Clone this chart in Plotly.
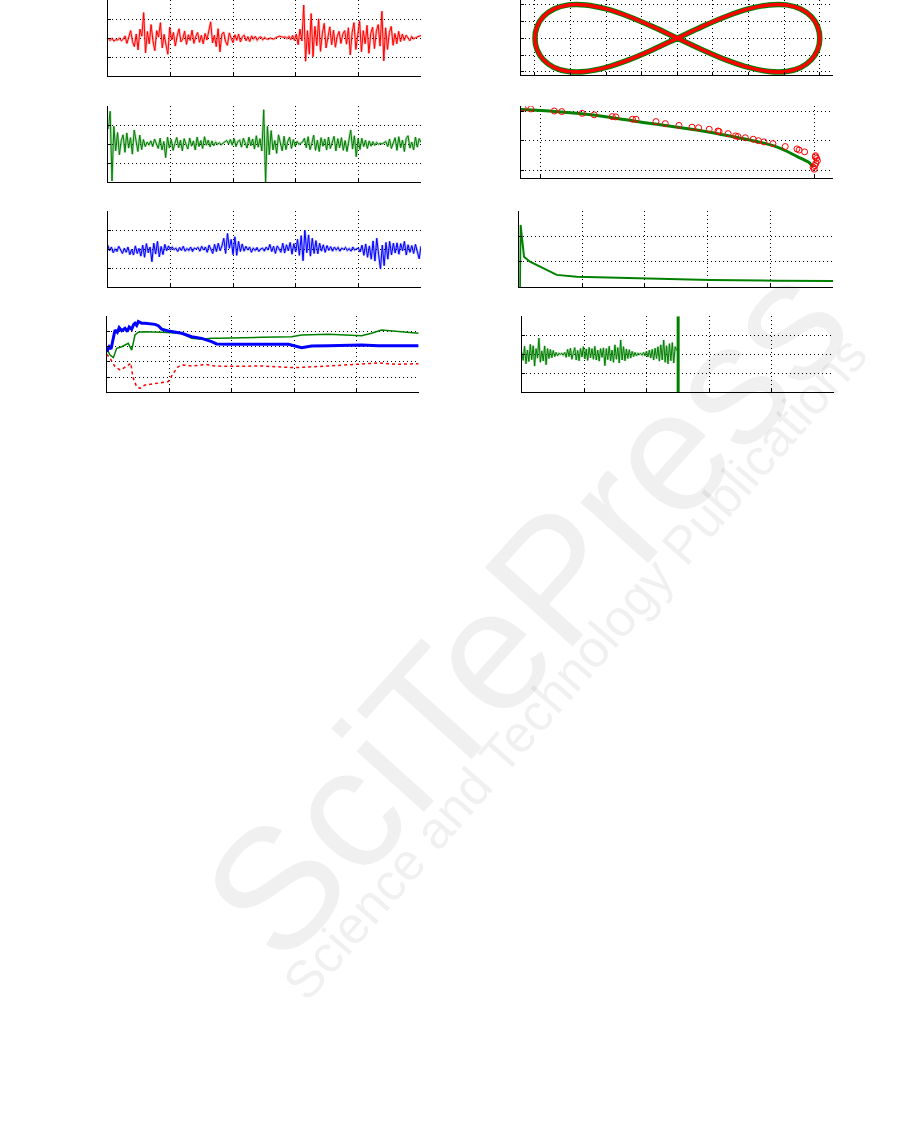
import numpy as np
import plotly.graph_objects as go

W, H = 901, 1134

# ---------------- data ----------------
# Panel 1 (red signal)
sig_red = [-0.05, -0.12, -0.02, -0.15, -0.08, -0.1, 0.0, -0.14, -0.06,
           0.12, -0.28, 0.05, 0.4, -0.18, -0.45, 0.22, -0.62,
           0.48, 0.1, 1.35, -0.78, 0.35, -0.3,
           0.72, -0.15, -0.66, 0.4, 0.05, 0.82, -0.52, 0.2, -0.35, -0.85, 0.58, -0.1,
           0.3, -0.42, 0.12, 0.5, -0.2, -0.05, 0.38, -0.33, 0.18, -0.12, 0.42, -0.28, 0.08, 0.3, -0.22, 0.15, -0.3,
           0.25, -0.1, 0.4, 0.86, -0.25, 0.15, -0.45, 0.5, -0.72, 0.2, 0.32, -0.18, -0.38, 0.28, 0.0, -0.24, 0.18,
           -0.12, 0.22, -0.2, 0.05, 0.16, -0.14, 0.08, -0.18, 0.12, -0.05, 0.1, -0.11, 0.03, 0.07, -0.09, 0.04, -0.04,
           -0.06, 0.01, -0.03, -0.05, 0.03, 0.06, 0.1, 0.08, 0.04, 0.07, -0.02, 0.09, -0.08, 0.14, -0.12, 0.22,
           -0.35, 0.48, -0.15, 1.75, -1.22, 0.4, -0.85, 1.3, -0.98,
           0.62, -0.4, 1.02, -0.7, 0.25, 0.78, -0.52, 0.18, 0.6, -0.35, 0.42, -0.48, 0.1, 0.36, -0.28, 0.22, 0.4,
           -0.32, 0.55, -0.88, 0.3, 0.82, -0.6, 0.15, 0.92, -0.72, 0.4, -0.3, 0.68, -0.8, 0.25, 0.58, -0.55, 0.35,
           0.72, -0.42, 1.42, -1.2, 0.55, -0.6, 0.3, 0.62,
           -0.38, 0.25, -0.3, 0.36, -0.18, 0.22, -0.12, 0.16, 0.0, -0.14, 0.09, -0.04, 0.02, 0.06, 0.1, 0.14]

# Panel 2 (green signal)
sig_green = [0.8, 1.74, -1.93,
             0.95, -0.35, 0.62, -0.55, 0.2, 0.5, -0.42,
             0.6, -0.2, 0.35, -0.52, 0.75, 0.1, -0.38, 0.48, -0.28, 0.25, -0.12,
             0.12, -0.02, 0.18, -0.12, 0.28, 0.0, -0.22, 0.32, -0.3, 0.15, -0.7, 0.38, -0.2,
             0.26, -0.32, 0.05, 0.36, -0.18, 0.22, -0.34, 0.3, 0.0, -0.25, 0.33, -0.1, 0.18, -0.3, 0.38, -0.12, 0.2,
             -0.22, 0.4, -0.05, 0.22, -0.14, 0.18, -0.08, 0.12, 0.0, 0.08, -0.02, 0.06, 0.12,
             0.2, 0.02, 0.25, -0.05, 0.3, -0.12, 0.15, 0.22, -0.15, 0.32, 0.0, -0.2, 0.38, -0.08, 0.28, -0.25,
             0.45, -0.15, 0.3, -0.35,
             1.82, -2.0, 0.95, -0.55,
             0.72, -0.3, 0.2, -0.48, 0.5, 0.05, -0.35, 0.42, -0.28, 0.15, 0.38, -0.22, 0.25, -0.1, 0.16, 0.0, 0.08,
             0.12, 0.32, -0.18, 0.4, -0.28, 0.05, 0.48, -0.32, 0.22, -0.38, 0.35, -0.1, 0.28, -0.3,
             0.38, -0.22, 0.1, 0.42, -0.35, 0.3, -0.18, 0.35, -0.32, 0.2, -0.38, 0.28, 0.75, -0.25, 0.45, -0.65, 0.3,
             -0.28, 0.32, -0.12, 0.22, -0.22, 0.18, -0.1, 0.14, -0.06, 0.1, 0.0, 0.05, 0.02, 0.06,
             0.14, -0.12, 0.28, -0.22, 0.05, 0.35, -0.32, 0.4, -0.18, 0.22, -0.38, 0.3, 0.45, -0.2, 0.12, -0.3,
             0.38, -0.15, 0.3, 0.1]

# Panel 3 (blue signal)
sig_blue = [0.22, -0.08, 0.12, -0.18, 0.02, -0.12, 0.16, -0.02, -0.22, 0.06, -0.16, 0.12, -0.28, 0.0, -0.3, 0.18, -0.22,
            0.05, -0.36, 0.22, -0.42, 0.3, -0.18, 0.12, -0.65, 0.32, -0.25, 0.42, -0.4, 0.15, -0.28, 0.26, -0.08, 0.18,
            -0.04, 0.12, -0.02, 0.06, -0.12, 0.1, -0.06, 0.16, -0.1, 0.04, -0.06, 0.12, -0.12, 0.06, 0.02, 0.1,
            -0.1, 0.16, -0.04, 0.12, -0.16, 0.22, -0.02, -0.22, 0.26, -0.12, 0.32, -0.08, 0.18,
            0.58, -0.22, 0.84, 0.05, 0.52, -0.28, 0.66, -0.32, 0.42, -0.12, 0.28,
            -0.1, 0.16, -0.04, 0.12, -0.16, 0.06, -0.06, 0.1, -0.12, 0.02, 0.06, -0.1, 0.12, -0.04, 0.26, -0.12,
            0.16, -0.22, 0.18, 0.02, -0.16, 0.32, -0.2, 0.24, -0.08, 0.36, -0.26, 0.3, -0.14,
            0.52, -0.32, 0.72, -0.6, 1.0, -0.18, 0.76, -0.36, 0.58, -0.22,
            0.46, -0.24, 0.32, -0.1, 0.24, -0.16, 0.2, -0.06, 0.14, -0.1, 0.12, -0.04, 0.1, -0.1, 0.06, 0.0,
            0.1, -0.06, 0.04, -0.1, 0.12, -0.04, 0.02, 0.06,
            -0.14, 0.22, -0.32, 0.28, -0.42, 0.18, -0.52, 0.44, -0.62, 0.58, -0.28, -1.04, 0.22, -0.86, 0.36,
            -0.52, 0.42, -0.3, 0.32, -0.2,
            0.34, -0.26, 0.3, -0.08, 0.42, -0.3, 0.24, -0.16, 0.2, -0.22, 0.26, -0.1, -0.5, 0.16]

# Panel 4 (three estimates)
est_blue_x = [0, 0.04, 0.07, 0.1, 0.133, 0.17, 0.2, 0.24, 0.293, 0.33, 0.36, 0.4, 0.43, 0.453, 0.48, 0.506,
              0.56, 0.613, 0.7, 0.773, 0.826, 0.88, 0.986, 1.2, 1.36, 1.52, 1.68, 1.76, 1.95, 2.48, 2.56,
              2.91, 3.12, 3.28, 3.55, 4.08, 4.35, 4.99]
est_blue_y = [2.67, 3.0, 2.85, 3.5, 4.1, 3.95, 4.25, 4.05, 4.21, 4.0, 4.3, 4.15, 4.45, 4.54, 4.4, 4.65,
              4.55, 4.55, 4.5, 4.47, 4.38, 4.16, 4.03, 3.88, 3.66, 3.55, 3.33, 3.18, 3.16, 3.16, 3.2,
              3.16, 2.93, 3.05, 3.07, 3.11, 3.07, 3.07]
est_green_x = [0, 0.053, 0.107, 0.16, 0.24, 0.346, 0.4, 0.426, 0.453, 0.506, 0.586, 0.88, 1.2, 1.36, 1.52,
               1.68, 1.81, 2.48, 2.96, 3.12, 3.55, 4.08, 4.24, 4.4, 4.62, 4.99]
est_green_y = [2.89, 2.45, 2.28, 2.89, 3.0, 3.22, 2.78, 3.33, 3.77, 3.95, 3.99, 3.95, 3.88, 3.55, 3.49,
               3.55, 3.55, 3.62, 3.66, 3.77, 3.82, 3.72, 3.88, 4.1, 4.0, 3.88]
est_red_x = [0, 0.053, 0.133, 0.213, 0.266, 0.346, 0.39, 0.40, 0.426, 0.48, 0.533, 0.613, 0.773, 0.933,
             0.986, 1.066, 1.146, 1.226, 1.36, 1.52, 1.57, 1.73, 1.95, 2.48, 3.01, 3.55, 4.08, 4.35, 4.62, 4.99]
est_red_y = [2.5, 2.24, 1.69, 1.47, 1.58, 1.8, 1.91, 1.47, 0.92, 0.37, 0.26, 0.48, 0.59, 0.66,
             0.7, 1.25, 1.69, 1.8, 1.73, 1.8, 1.84, 1.73, 1.71, 1.73, 1.62, 1.73, 1.84, 1.93, 1.84, 1.88]

# Panel 5 (figure-eight path: reference and estimate)
path_x = [2.0, 1.970, 1.879, 1.732, 1.532, 1.286, 1.0, 0.684, 0.347, 0.0, -0.347, -0.684, -1.0, -1.286,
          -1.532, -1.732, -1.879, -1.970, -2.0, -1.970, -1.879, -1.732, -1.532, -1.286, -1.0, -0.684,
          -0.347, 0.0, 0.347, 0.684, 1.0, 1.286, 1.532, 1.732, 1.879, 1.970, 2.0]
path_y = [0.0, 0.342, 0.643, 0.866, 0.985, 0.985, 0.866, 0.643, 0.342, 0.0, -0.342, -0.643, -0.866, -0.985,
          -0.985, -0.866, -0.643, -0.342, 0.0, 0.342, 0.643, 0.866, 0.985, 0.985, 0.866, 0.643,
          0.342, 0.0, -0.342, -0.643, -0.866, -0.985, -0.985, -0.866, -0.643, -0.342, 0.0]

# Panel 6 (curve and measured points)
curve_x = [-0.074, 0.0, 0.13, 0.25, 0.374, 0.5, 0.618, 0.7, 0.8, 0.85, 0.9, 0.94, 0.965, 0.984, 0.994]
curve_y = [2.06, 2.03, 1.93, 1.80, 1.62, 1.46, 1.29, 1.14, 0.95, 0.83, 0.64, 0.45, 0.34, 0.24, 0.11]
pts_x = [-0.065, -0.037, 0.049, 0.076, 0.151, 0.195, 0.261, 0.274, 0.335, 0.348, 0.421, 0.455, 0.505,
         0.553, 0.577, 0.616, 0.648, 0.652, 0.685, 0.712, 0.721, 0.748, 0.777, 0.796, 0.816, 0.849,
         0.894, 0.937, 0.945, 0.965, 1.005, 1.009, 1.012, 1.006, 1.003, 1.0, 0.996, 1.004]
pts_y = [2.11, 2.08, 2.01, 1.99, 1.93, 1.88, 1.82, 1.81, 1.73, 1.73, 1.65, 1.58, 1.52,
         1.46, 1.44, 1.39, 1.33, 1.31, 1.24, 1.16, 1.14, 1.10, 1.05, 1.00, 0.96, 0.90,
         0.80, 0.72, 0.68, 0.62, 0.49, 0.40, 0.32, 0.23, 0.15, 0.03, 0.10, 0.45]

# Panel 7 (error decay)
err_x = [0.01, 0.02, 0.064, 0.075, 0.17, 0.33, 0.436, 0.596, 0.914, 1.97, 3.04, 4.10, 5.0]
err_y = [0.0, 2.46, 1.47, 1.21, 1.01, 0.81, 0.68, 0.49, 0.42, 0.35, 0.29, 0.26, 0.25]

# Panel 8 (green signal until the switch)
sig_switch = [0.1, -0.32, 0.42, -0.5, 0.22, -0.38, 0.52, -0.28, 0.45, -0.62, 0.3, -0.2, 0.85, -0.42, 0.18, -0.35,
              0.44, -0.55, 0.3, -0.22, 0.26, -0.18, 0.2, -0.12, 0.1, -0.08, 0.05,
              0.0, 0.05, -0.04, 0.1,
              -0.16, 0.26, -0.12, 0.32, -0.26, 0.08, 0.35, -0.3, 0.2, -0.34, 0.3, -0.14, 0.4, -0.24, 0.28, -0.32,
              0.36, -0.18, 0.3, -0.26, 0.42, -0.3, 0.22, -0.36, 0.3, -0.16, 0.34, -0.6, 0.3,
              -0.28, 0.42, -0.35, 0.22, -0.42, 0.5, -0.26, 0.35, -0.46, 0.75, -0.3, 0.4, -0.34, 0.28, -0.22, 0.24,
              -0.2, 0.15, -0.12, 0.1, -0.08, 0.05, 0.0, 0.04, -0.04,
              0.1, -0.08, 0.16, -0.14, 0.22, -0.2, 0.26, -0.3, 0.32, -0.22, 0.4, -0.36, 0.5, -0.3, 0.75, -0.42,
              0.45, -0.5, 0.56, -0.34, 0.62, -0.46, 0.4, 0.2]
switch_end = 2.48
switch_at = 2.505

# ---------------- figure ----------------
RED, GREEN, BLUE = "#ff0000", "#008000", "#0000ff"
fig = go.Figure()


def add(trace, k):
    trace.update(xaxis="x" if k == 1 else f"x{k}", yaxis="y" if k == 1 else f"y{k}",
                 showlegend=False, hoverinfo="skip")
    fig.add_trace(trace)


def noise(vals, k, color, halo, x_end):
    xs = np.linspace(0, x_end, len(vals))
    add(go.Scatter(x=xs, y=vals, mode="lines", line=dict(color=halo, width=2.5)), k)
    add(go.Scatter(x=xs, y=vals, mode="lines", line=dict(color=color, width=1)), k)


noise(sig_red, 1, RED, "rgba(255,0,0,0.3)", 5)
noise(sig_green, 2, GREEN, "rgba(0,128,0,0.3)", 5)
noise(sig_blue, 3, BLUE, "rgba(0,0,255,0.3)", 5)

add(go.Scatter(x=est_red_x, y=est_red_y, mode="lines", line=dict(color=RED, width=1.5, dash="dot")), 4)
add(go.Scatter(x=est_green_x, y=est_green_y, mode="lines", line=dict(color=GREEN, width=1.5)), 4)
add(go.Scatter(x=est_blue_x, y=est_blue_y, mode="lines", line=dict(color=BLUE, width=3)), 4)

add(go.Scatter(x=path_x, y=path_y, mode="lines", line=dict(color=GREEN, width=5.5, shape="spline")), 5)
add(go.Scatter(x=path_x, y=path_y, mode="lines", line=dict(color=RED, width=3.5, shape="spline")), 5)

add(go.Scatter(x=curve_x, y=curve_y, mode="lines", line=dict(color=GREEN, width=3, shape="spline")), 6)
add(go.Scatter(x=pts_x, y=pts_y, mode="markers",
               marker=dict(symbol="circle-open", size=6, color=RED, line=dict(width=1, color=RED))), 6)

add(go.Scatter(x=err_x, y=err_y, mode="lines", line=dict(color=GREEN, width=2)), 7)

noise(sig_switch, 8, GREEN, "rgba(0,128,0,0.3)", switch_end)
add(go.Scatter(x=[switch_at, switch_at], y=[-2, 2], mode="lines", line=dict(color=GREEN, width=3)), 8)

# panel geometry in pixels: left, right, top, bottom
geom = {
    1: (108.3, 421.0, 0.3, 76.0),
    2: (108.3, 421.0, 106.3, 182.3),
    3: (107.7, 421.0, 211.3, 287.3),
    4: (106.7, 419.0, 316.3, 392.3),
    5: (520.7, 833.3, 0.0, 75.0),
    6: (520.7, 833.3, 106.3, 178.3),
    7: (519.3, 833.3, 211.3, 287.3),
    8: (521.7, 834.0, 316.3, 392.3),
}
xcfg = {
    1: ([0, 5], [0, 1, 2, 3, 4, 5]),
    2: ([0, 5], [0, 1, 2, 3, 4, 5]),
    3: ([0, 5], [0, 1, 2, 3, 4, 5]),
    4: ([0, 5], [0, 1, 2, 3, 4, 5]),
    5: ([-2.2, 2.19], [-2, -1.5, -1, -0.5, 0, 0.5, 1, 1.5, 2]),
    6: ([-0.074, 1.07], [0, 1]),
    7: ([0, 5], [0, 1, 2, 3, 4, 5]),
    8: ([0, 5], [0, 1, 2, 3, 4, 5]),
}
ycfg = {
    1: ([-2, 2], [-2, -1, 0, 1, 2]),
    2: ([-2, 2], [-2, -1, 0, 1, 2]),
    3: ([-2, 2], [-2, -1, 0, 1, 2]),
    4: ([0, 5], [0, 1, 2, 3, 4, 5]),
    5: ([-1.09, 1.13], [-1, -0.5, 0, 0.5, 1]),
    6: ([-0.28, 2.17], [0, 1, 2]),
    7: ([0, 3], [0, 1, 2, 3]),
    8: ([-2, 2], [-2, -1, 0, 1, 2]),
}

common = dict(showline=True, linecolor="black", linewidth=1, showgrid=True, gridcolor="black",
              gridwidth=1, griddash="1px,3px", zeroline=False, showticklabels=False,
              ticks="inside", ticklen=3, tickcolor="black", tickwidth=1, fixedrange=True)

layout = {}
for k, (l, r, t, b) in geom.items():
    xs = "" if k == 1 else str(k)
    xr, xt = xcfg[k]
    yr, yt = ycfg[k]
    layout[f"xaxis{xs}"] = dict(common, domain=[l / W, r / W], range=xr, tickvals=xt,
                                anchor=f"y{xs}")
    layout[f"yaxis{xs}"] = dict(common, domain=[1 - b / H, 1 - t / H], range=yr, tickvals=yt,
                                anchor=f"x{xs}")

fig.update_layout(**layout)
fig.update_layout(
    width=W, height=H, margin=dict(l=0, r=0, t=0, b=0),
    paper_bgcolor="white", plot_bgcolor="rgba(0,0,0,0)",
    annotations=[
        dict(text="SciTePress", xref="paper", yref="paper", x=525 / W, y=1 - 610 / H,
             xanchor="center", yanchor="middle", showarrow=False, textangle=-48,
             font=dict(family="Liberation Sans", size=172, color="rgba(0,0,0,0.06)")),
        dict(text="Science and Technology Publications", xref="paper", yref="paper",
             x=575 / W, y=1 - 668 / H, xanchor="center", yanchor="middle", showarrow=False, textangle=-49,
             font=dict(family="Liberation Sans", size=52, color="rgba(0,0,0,0.06)")),
    ],
)

fig.write_html("out.html", config={"displayModeBar": False},
               post_script="document.body.style.margin='0';")
